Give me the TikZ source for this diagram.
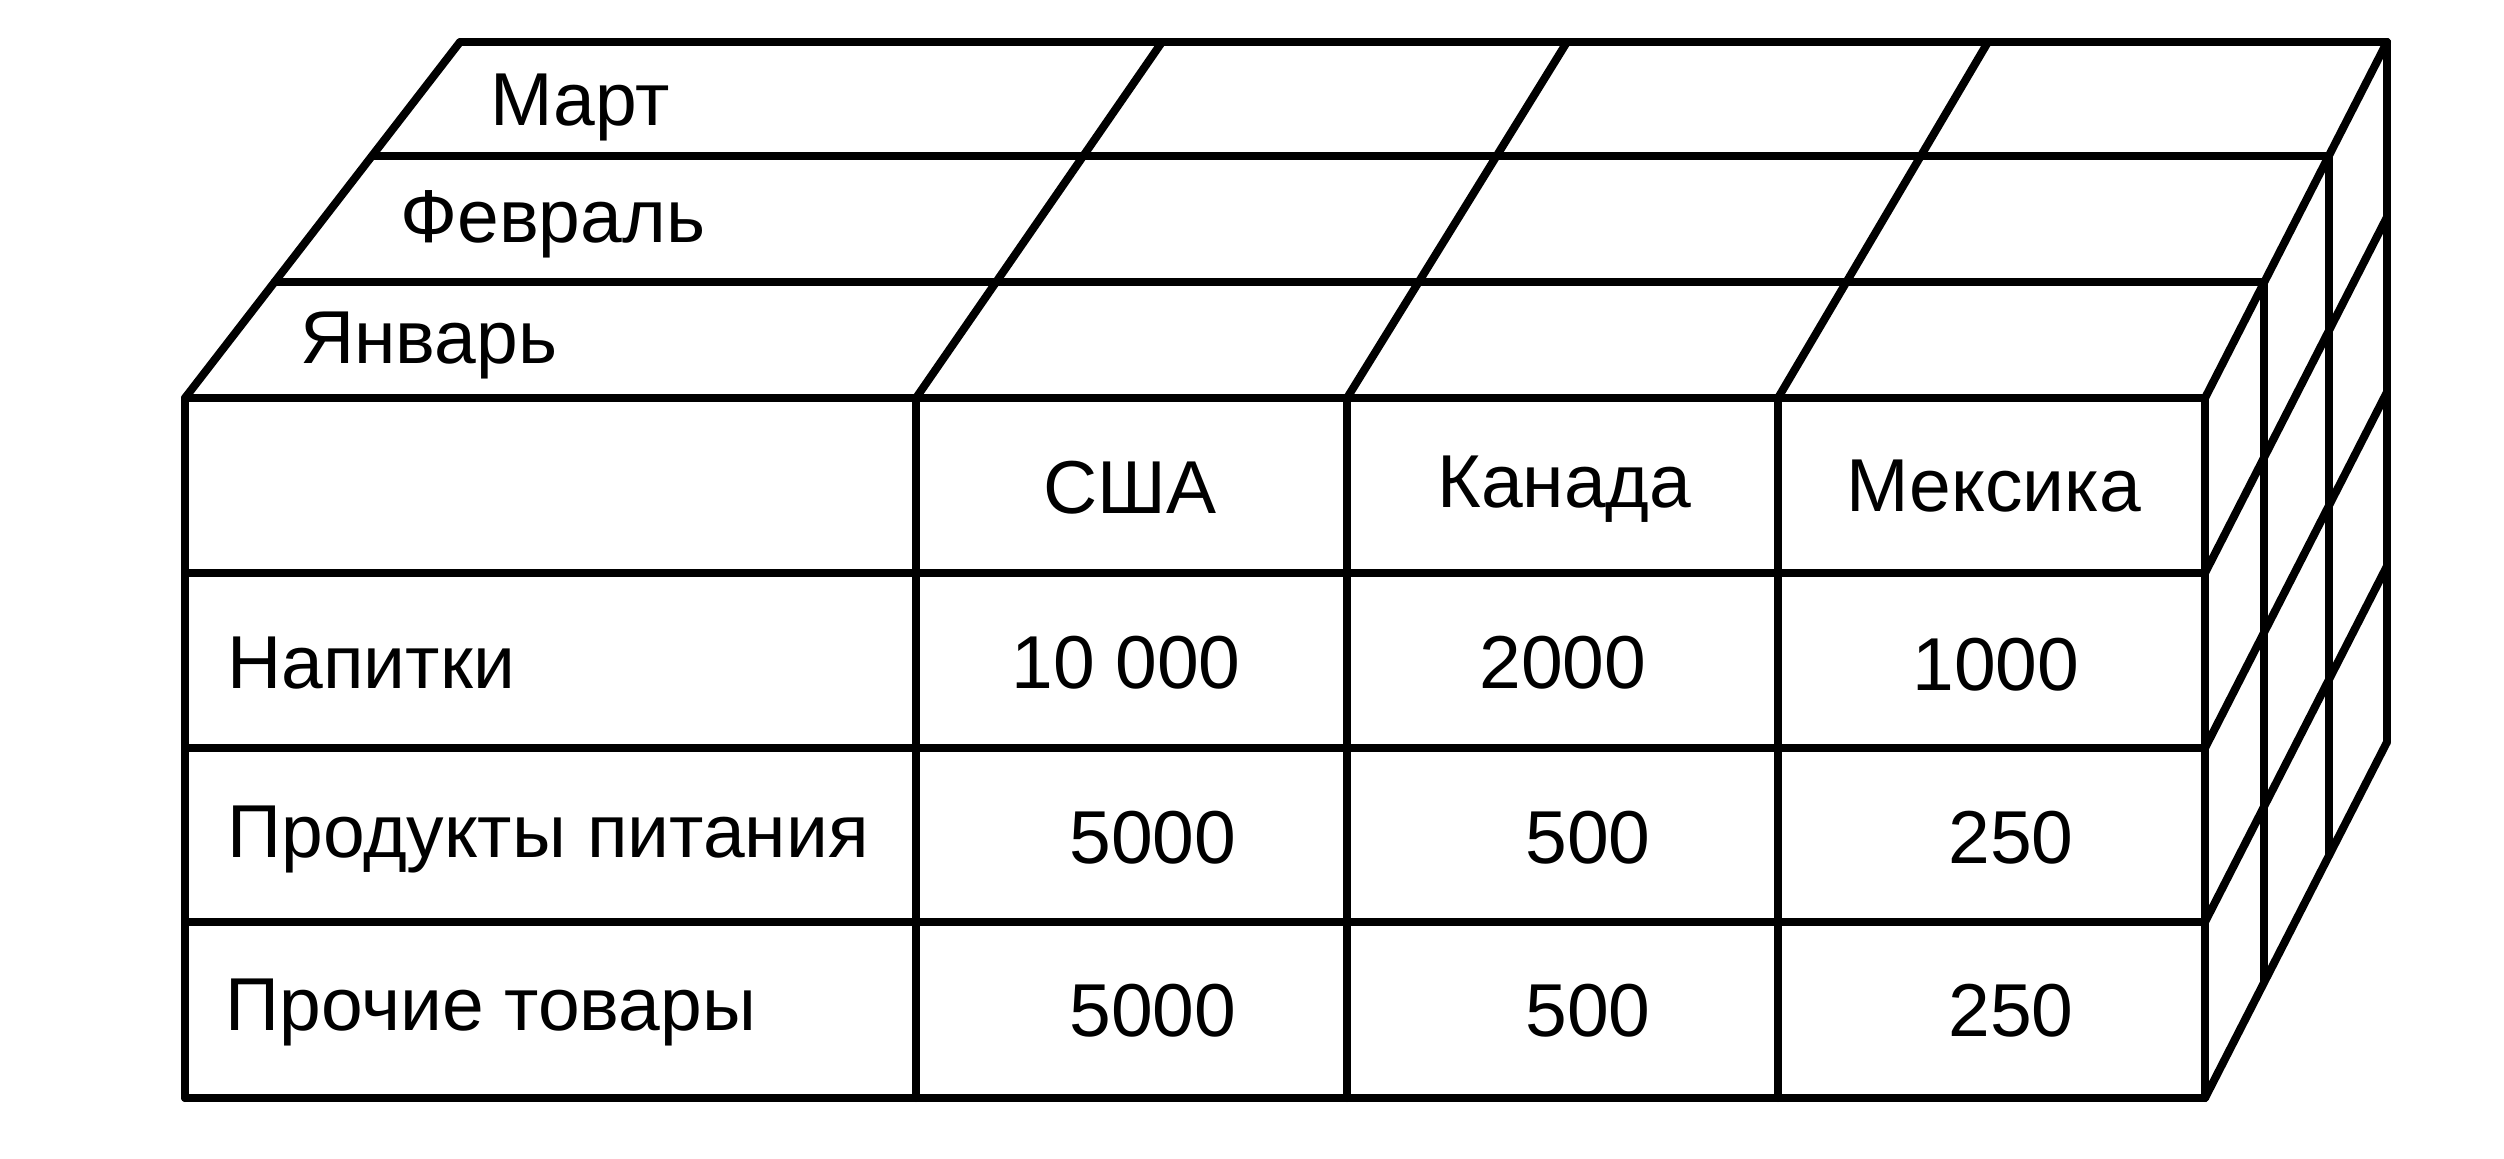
\documentclass[tikz,border=0pt]{standalone}
\usepackage{fontspec}
\setmainfont{Liberation Sans}
\usetikzlibrary{calc}
\begin{document}
\begin{tikzpicture}[x=0.5pt,y=-0.5pt,
  edge/.style={line width=4pt, line cap=round, line join=round, draw=black},
  lbl/.style={anchor=base west, inner sep=0pt, font=\fontsize{37.5}{45}\selectfont}]
\useasboundingbox (0,0) rectangle (2504,1158);
% corner coordinates
\coordinate (FTL) at (185,398);
\coordinate (FTR) at (2205,398);
\coordinate (FBL) at (185,1098);
\coordinate (FBR) at (2205,1098);
\coordinate (BTL) at (460,42);
\coordinate (BTR) at (2387,42);
\coordinate (BBR) at (2387,742);
% front face: horizontals
\foreach \y in {398,573,748,922,1098} \draw[edge] (185,\y) -- (2205,\y);
% front face: verticals
\foreach \x in {185,916,1347,1778,2205} \draw[edge] (\x,398) -- (\x,1098);
% top face: depth lines
\foreach \xf/\xb in {185/460,916/1162,1347/1567,1778/1988,2205/2387}
  \draw[edge] (\xf,398) -- (\xb,42);
% top face: layer lines
\foreach \f in {0.326,0.68}
  \draw[edge] ($(FTL)!\f!(BTL)$) -- ($(FTR)!\f!(BTR)$);
\draw[edge] (BTL) -- (BTR);
% right side: verticals
\foreach \f in {0.326,0.68,1}
  \draw[edge] ($(FTR)!\f!(BTR)$) -- ($(FBR)!\f!(BBR)$);
% right side: row diagonals
\foreach \y in {573,748,922,1098}
  \draw[edge] (2205,\y) -- (2387,\y-356);
% month labels
\node[lbl] (mar) at (490,125) {Март};
\node[lbl] (feb) at (400,242) {Февраль};
\node[lbl] (jan) at (300,363) {Январь};
% column headers
\node[lbl] (usa) at (1043,513) {США};
\node[lbl] (can) at (1437,507) {Канада};
\node[lbl] (mex) at (1846,511) {Мексика};
% row headers
\node[lbl] (r1) at (227,688) {Напитки};
\node[lbl] (r2) at (227,857) {Продукты питания};
\node[lbl] (r3) at (225,1030) {Прочие товары};
% values
\node[lbl] (v11) at (1011,688) {10 000};
\node[lbl] (v12) at (1479,688) {2000};
\node[lbl] (v13) at (1912,690) {1000};
\node[lbl] (v21) at (1069,863) {5000};
\node[lbl] (v22) at (1525,863) {500};
\node[lbl] (v23) at (1948,863) {250};
\node[lbl] (v31) at (1069,1036) {5000};
\node[lbl] (v32) at (1525,1036) {500};
\node[lbl] (v33) at (1948,1036) {250};
\end{tikzpicture}
\end{document}
